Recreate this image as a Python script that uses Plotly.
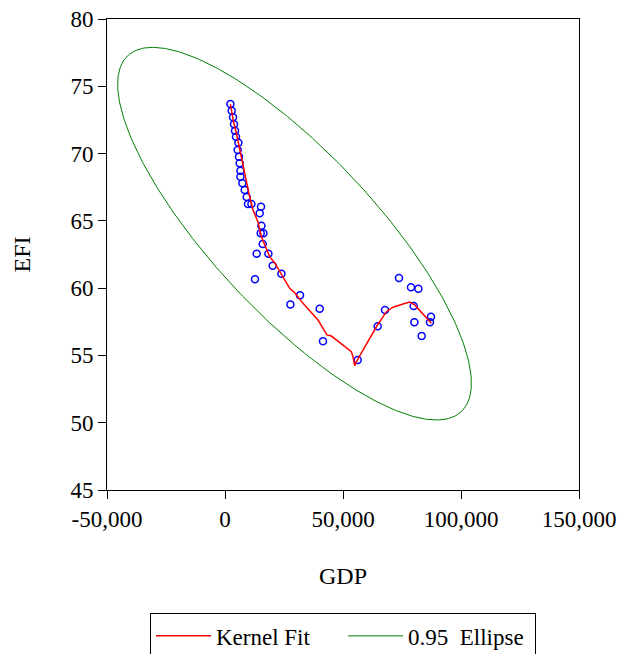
import numpy as np
import plotly.graph_objects as go

# Observed data (GDP vs EFI)
gdp = [2288, 2839, 3390, 3813, 4237, 4661, 5678, 5381, 5932, 6228, 6525, 6525, 7372,
       8347, 9194, 9745, 11186, 15253, 14703, 15423, 15126, 16270, 15973, 13431, 18389,
       20211, 23897, 12711, 31778, 27710, 40124, 41522, 56225, 64699, 67792, 73724,
       78808, 81944, 79953, 80249, 87283, 86859, 83343]
efi = [73.68, 73.19, 72.70, 72.18, 71.70, 71.25, 70.81, 70.27, 69.77, 69.28, 68.73, 68.28,
       67.79, 67.29, 66.77, 66.25, 66.25, 66.05, 65.56, 64.64, 64.08, 64.08, 63.28, 62.56,
       62.56, 61.67, 61.07, 60.66, 59.47, 58.78, 58.47, 56.05, 54.66, 57.16, 58.38, 60.75,
       60.06, 59.96, 58.67, 57.46, 57.88, 57.46, 56.44]

# Kernel fit curve
fit_gdp = [2288, 3474, 4830, 6017, 6949, 7923, 9067, 10465, 11864, 13982, 15423, 16821,
           18939, 21058, 23897, 27414, 29531, 33048, 39404, 43217, 45081, 51437, 53555,
           54233, 54954, 55674, 59191, 64148, 68385, 71181, 75418, 78257, 80376, 83893, 87452]
fit_efi = [73.68, 72.49, 71.51, 70.49, 69.77, 68.78, 67.79, 66.77, 65.81, 64.92, 63.82, 63.21,
           62.34, 61.87, 60.98, 59.99, 59.66, 58.87, 57.63, 56.52, 56.44, 55.53, 55.28,
           54.91, 54.24, 54.53, 55.65, 57.13, 58.25, 58.58, 58.82, 58.97, 58.75, 58.06, 57.39]

x_ticks = [-50000, 0, 50000, 100000, 150000]
x_tick_labels = ["-50,000", "0", "50,000", "100,000", "150,000"]
y_ticks = [45, 50, 55, 60, 65, 70, 75, 80]

# 0.95 confidence ellipse derived from the data
crit_95 = 6.4
X = np.array([gdp, efi], dtype=float)
mu = X.mean(axis=1)
cov = np.cov(X)
vals, vecs = np.linalg.eigh(cov)
t = np.linspace(0, 2 * np.pi, 400)
circle = np.vstack([np.cos(t), np.sin(t)])
ell = vecs @ (np.sqrt(vals * crit_95)[:, None] * circle) + mu[:, None]

font = dict(family="Liberation Serif, Times New Roman, serif", color="black")

fig = go.Figure()
fig.add_trace(go.Scatter(x=gdp, y=efi, mode="markers", showlegend=False,
                         marker=dict(symbol="circle-open", color="blue", size=7,
                                     line=dict(width=1.5, color="blue"))))
fig.add_trace(go.Scatter(x=fit_gdp, y=fit_efi, mode="lines", name="Kernel Fit",
                         line=dict(color="red", width=1.5)))
fig.add_trace(go.Scatter(x=ell[0], y=ell[1], mode="lines", name="0.95  Ellipse",
                         line=dict(color="green", width=1)))

fig.update_layout(
    width=621, height=654,
    margin=dict(l=107, r=42, t=19, b=164, autoexpand=False),
    paper_bgcolor="white", plot_bgcolor="white",
    font=dict(size=23, **font),
    xaxis=dict(range=[-50000, 150000], tickvals=x_ticks, ticktext=x_tick_labels,
               ticks="outside", ticklen=8, tickcolor="black",
               showline=True, linecolor="black", linewidth=1, mirror=True,
               showgrid=False, zeroline=False, automargin=False,
               ticklabeloverflow="allow",
               tickfont=dict(size=23, **font),
               title=dict(text="GDP", font=dict(size=24, **font), standoff=36)),
    yaxis=dict(range=[45, 80], tickvals=y_ticks,
               ticks="outside", ticklen=8, tickcolor="black",
               showline=True, linecolor="black", linewidth=1, mirror=True,
               showgrid=False, zeroline=False, automargin=False,
               ticklabeloverflow="allow",
               tickfont=dict(size=23, **font),
               title=dict(text="EFI", font=dict(size=24, **font), standoff=33)),
    legend=dict(orientation="h", x=0.5, xanchor="center", y=-0.262, yanchor="top",
                bordercolor="black", borderwidth=1, font=dict(size=23, **font),
                itemwidth=55, entrywidth=122),
)

fig.write_html("out.html", config={"displayModeBar": False},
               post_script="document.body.style.margin='0';")
